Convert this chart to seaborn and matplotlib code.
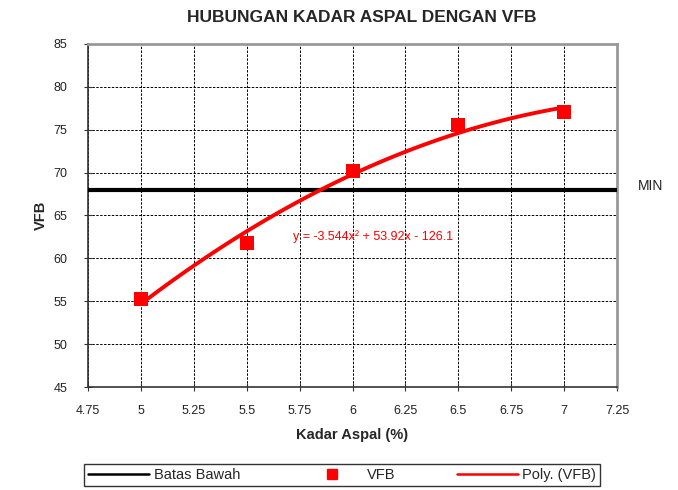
import numpy as np
import pandas as pd
import matplotlib
matplotlib.use("Agg")
import matplotlib.pyplot as plt
import seaborn as sns
from matplotlib.lines import Line2D

# Data
kadar_aspal = [5.0, 5.5, 6.0, 6.5, 7.0]
vfb = [55.3, 61.8, 70.15, 75.5, 77.1]
batas_bawah = 68.0
x_ticks = [4.75, 5, 5.25, 5.5, 5.75, 6, 6.25, 6.5, 6.75, 7, 7.25]
x_tick_labels = ["4.75", "5", "5.25", "5.5", "5.75", "6", "6.25", "6.5", "6.75", "7", "7.25"]
y_ticks = [45, 50, 55, 60, 65, 70, 75, 80, 85]
equation = "y = -3.544x² + 53.92x - 126.1"

sns.set_theme(style="white")
plt.rcParams['font.family'] = ['Liberation Sans', 'DejaVu Sans']

df = pd.DataFrame({"Kadar Aspal": kadar_aspal, "VFB": vfb})

fig = plt.figure(figsize=(6.78, 4.90), dpi=100)
ax = fig.add_axes([88/678, 1-387/490, (617-88)/678, (387-44)/490])

ax.set_xlim(4.75, 7.25)
ax.set_ylim(45, 85)
ax.set_xticks(x_ticks)
ax.set_xticklabels(x_tick_labels)
ax.set_yticks(y_ticks)

ax.grid(True, color="black", linestyle=(0, (2.5, 1.5)), linewidth=0.7)
ax.set_axisbelow(True)

# Horizontal limit line
ax.axhline(batas_bawah, color="black", linewidth=3, zorder=3)

# Polynomial trend
sns.regplot(data=df, x="Kadar Aspal", y="VFB", order=2, ci=None, scatter=False,
            truncate=True, color="red", line_kws={"linewidth": 2.8, "zorder": 4}, ax=ax)

# Data points
sns.scatterplot(data=df, x="Kadar Aspal", y="VFB", marker="s", s=90, color="red",
                edgecolor="red", linewidth=0, zorder=5, ax=ax)

ax.text(5.72, 62.5, equation, color="red", fontsize=9, ha="left", va="center")
ax.text(1.04, (batas_bawah + 0.4 - 45) / 40, "MIN", transform=ax.transAxes,
        fontsize=10, ha="left", va="center", color="#222222")

for side in ["left", "bottom"]:
    ax.spines[side].set_color("#333333")
    ax.spines[side].set_linewidth(1.2)
for side in ["top", "right"]:
    ax.spines[side].set_color("#999999")
    ax.spines[side].set_linewidth(2)

ax.tick_params(axis="both", direction="inout", length=6, width=0.8, color="#333333",
               labelsize=9, labelcolor="#222222", left=True, bottom=True, pad=10)
ax.tick_params(axis="y", pad=12)

ax.set_xlabel("Kadar Aspal (%)", fontsize=10.5, fontweight="bold", labelpad=8)
ax.set_ylabel("VFB", fontsize=10.5, fontweight="bold", labelpad=4)
fig.text(362/678, 1-18/490, "HUBUNGAN KADAR ASPAL DENGAN VFB", ha="center", va="center",
         fontsize=12.5, fontweight="bold")

handles = [
    Line2D([0], [0], color="black", linewidth=1.8),
    Line2D([0], [0], color="red", marker="s", linestyle="none", markersize=7),
    Line2D([0], [0], color="red", linewidth=1.8),
]
labels = ["Batas Bawah", "VFB", "Poly. (VFB)"]
leg = fig.legend(handles, labels, loc="center", bbox_to_anchor=(342/678, 1-475/490),
                 ncol=3, frameon=True, fancybox=False, fontsize=10.5,
                 handlelength=4.2, columnspacing=4.2, handletextpad=0.3,
                 borderpad=0.25, borderaxespad=0, edgecolor="black")
leg.get_frame().set_linewidth(1.0)

fig.savefig("out.png", dpi=100, facecolor="white")
